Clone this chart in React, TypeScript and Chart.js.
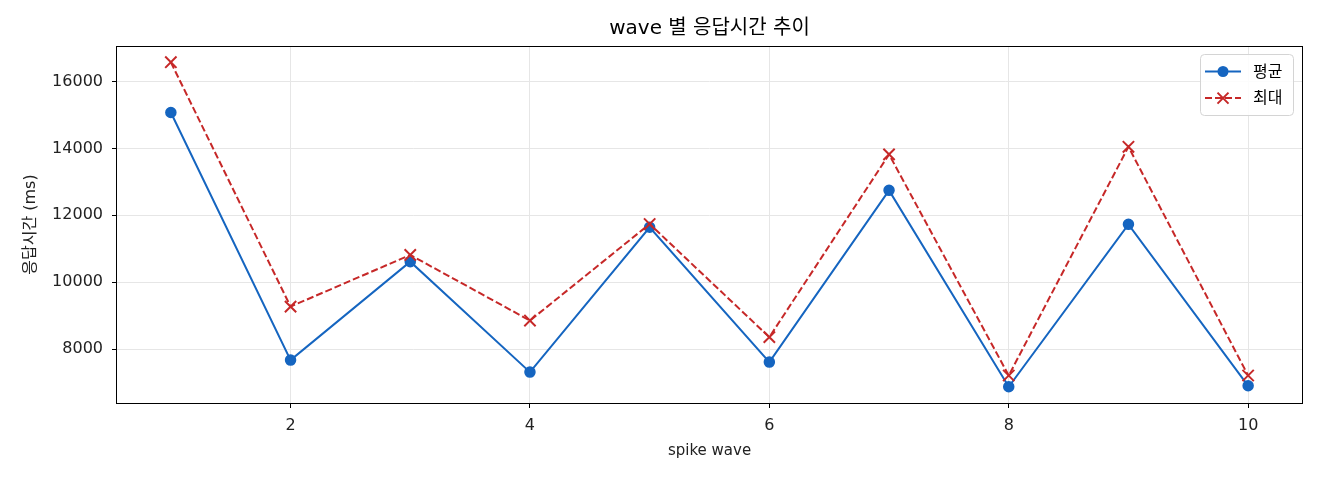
import React, { useEffect, useRef } from "react";
import { Chart, registerables } from "chart.js";

Chart.register(...registerables);

const waves: number[] = [1, 2, 3, 4, 5, 6, 7, 8, 9, 10];
const avgMs: number[] = [15075, 7672, 10615, 7313, 11642, 7612, 12746, 6875, 11731, 6904];
const maxMs: number[] = [16576, 9272, 10815, 8854, 11740, 8358, 13821, 7212, 14048, 7212];
const xTickValues: number[] = [2, 4, 6, 8, 10];
const yTickValues: number[] = [8000, 10000, 12000, 14000, 16000];

const chartTitle = "wave 별 응답시간 추이";
const xTitle = "spike wave";
const yTitle = "응답시간 (ms)";
const avgLabel = "평균";
const maxLabel = "최대";

const FONT = '"DejaVu Sans", "Noto Sans CJK KR", sans-serif';
const TEXT = "#222222";
const GRID = "#e6e6e6";
const BLUE = "#1565c0";
const RED = "#c62828";

export default function App() {
  const ref = useRef<HTMLCanvasElement | null>(null);

  useEffect(() => {
    document.body.style.margin = "0";
    const canvas = ref.current;
    if (!canvas) return;

    const xPad = (Math.max(...waves) - Math.min(...waves)) * 0.05;
    const allY = [...avgMs, ...maxMs];
    const yLo = Math.min(...allY);
    const yHi = Math.max(...allY);
    const yPad = (yHi - yLo) * 0.05;

    const framePlugin = {
      id: "frame",
      afterDatasetsDraw(chart: any) {
        const { ctx, chartArea: a } = chart;
        ctx.save();
        ctx.strokeStyle = "#000";
        ctx.lineWidth = 1;
        ctx.strokeRect(Math.round(a.left) - 0.5, Math.round(a.top) + 0.5, Math.round(a.right - a.left) + 1, Math.round(a.bottom - a.top));
        ctx.restore();
      },
    };

    const titlePlugin = {
      id: "mtitle",
      afterDraw(chart: any) {
        const { ctx, chartArea: a } = chart;
        ctx.save();
        ctx.font = `20px ${FONT}`;
        ctx.fillStyle = "#000";
        ctx.textAlign = "center";
        ctx.textBaseline = "middle";
        ctx.fillText(chartTitle, (a.left + a.right) / 2, 29);
        ctx.restore();
      },
    };

    const legendPlugin = {
      id: "mlegend",
      afterDraw(chart: any) {
        const { ctx, chartArea: a } = chart;
        const w = 93;
        const h = 61;
        const x0 = a.right - 9 - w;
        const y0 = a.top + 8;
        ctx.save();
        ctx.fillStyle = "rgba(255,255,255,0.85)";
        ctx.strokeStyle = "#d4d4d4";
        ctx.lineWidth = 1;
        ctx.beginPath();
        (ctx as any).roundRect(x0 + 0.5, y0 + 0.5, w, h, 4);
        ctx.fill();
        ctx.stroke();
        const rows = [
          { label: avgLabel, color: BLUE, dash: [] as number[], marker: "circle" },
          { label: maxLabel, color: RED, dash: [7, 3], marker: "x" },
        ];
        rows.forEach((r, i) => {
          const cy = y0 + 17.5 + i * 26.6;
          const lx0 = x0 + 5;
          const lx1 = x0 + 41;
          const mx = (lx0 + lx1) / 2;
          ctx.strokeStyle = r.color;
          ctx.lineWidth = 2;
          ctx.setLineDash(r.dash);
          ctx.beginPath();
          ctx.moveTo(lx0, cy);
          ctx.lineTo(lx1, cy);
          ctx.stroke();
          ctx.setLineDash([]);
          if (r.marker === "circle") {
            ctx.fillStyle = r.color;
            ctx.beginPath();
            ctx.arc(mx, cy, 5.5, 0, Math.PI * 2);
            ctx.fill();
          } else {
            const s = 5.5;
            ctx.beginPath();
            ctx.moveTo(mx - s, cy - s);
            ctx.lineTo(mx + s, cy + s);
            ctx.moveTo(mx + s, cy - s);
            ctx.lineTo(mx - s, cy + s);
            ctx.stroke();
          }
          ctx.fillStyle = "#000";
          ctx.font = `16px ${FONT}`;
          ctx.textAlign = "left";
          ctx.textBaseline = "middle";
          ctx.fillText(r.label, x0 + 53, cy + 1);
        });
        ctx.restore();
      },
    };

    const chart = new Chart(canvas, {
      type: "line",
      data: {
        datasets: [
          {
            label: avgLabel,
            data: waves.map((w, i) => ({ x: w, y: avgMs[i] })),
            borderColor: BLUE,
            backgroundColor: BLUE,
            borderWidth: 2,
            pointStyle: "circle",
            pointRadius: 5,
            pointBorderWidth: 1.5,
            pointBackgroundColor: BLUE,
            pointBorderColor: BLUE,
            tension: 0,
            order: 2,
          },
          {
            label: maxLabel,
            data: waves.map((w, i) => ({ x: w, y: maxMs[i] })),
            borderColor: RED,
            backgroundColor: RED,
            borderWidth: 2,
            borderDash: [7, 3],
            pointStyle: "crossRot",
            pointRadius: 8,
            pointBorderWidth: 2,
            pointBorderColor: RED,
            pointBackgroundColor: RED,
            tension: 0,
            order: 1,
          },
        ],
      },
      options: {
        animation: false,
        responsive: false,
        maintainAspectRatio: false,
        layout: { padding: { top: 46, right: 18, left: 0, bottom: 0 } },
        plugins: {
          legend: { display: false },
          title: { display: false },
          tooltip: { enabled: false },
        },
        scales: {
          x: {
            type: "linear",
            min: Math.min(...waves) - xPad,
            max: Math.max(...waves) + xPad,
            afterBuildTicks: (s: any) => {
              s.ticks = xTickValues.map((v) => ({ value: v }));
            },
            afterFit: (s: any) => {
              s.height = 77;
            },
            border: { display: false },
            grid: { color: GRID, lineWidth: 1, tickLength: 5, tickColor: "#000", tickWidth: 1 },
            ticks: {
              autoSkip: false,
              maxRotation: 0,
              color: TEXT,
              padding: 8,
              font: { family: FONT, size: 16 },
              callback: (v: any) => String(v),
            },
            title: {
              display: true,
              text: xTitle,
              color: TEXT,
              font: { family: FONT, size: 15 },
              padding: { top: 0, bottom: 20 },
            },
          },
          y: {
            type: "linear",
            min: yLo - yPad,
            max: yHi + yPad,
            afterBuildTicks: (s: any) => {
              s.ticks = yTickValues.map((v) => ({ value: v }));
            },
            afterFit: (s: any) => {
              s.width = 117;
            },
            border: { display: false },
            grid: { color: GRID, lineWidth: 1, tickLength: 5, tickColor: "#000", tickWidth: 1 },
            ticks: {
              autoSkip: false,
              color: TEXT,
              padding: 9,
              font: { family: FONT, size: 16 },
              callback: (v: any) => String(v),
            },
            title: {
              display: true,
              text: yTitle,
              color: TEXT,
              font: { family: FONT, size: 16 },
              padding: { top: 21, bottom: 0 },
            },
          },
        },
      },
      plugins: [framePlugin, titlePlugin, legendPlugin],
    } as any);

    return () => {
      chart.destroy();
    };
  }, []);

  return (
    <div style={{ width: 1320, height: 480 }}>
      <canvas ref={ref} width={1320} height={480} style={{ width: 1320, height: 480, display: "block" }} />
    </div>
  );
}
